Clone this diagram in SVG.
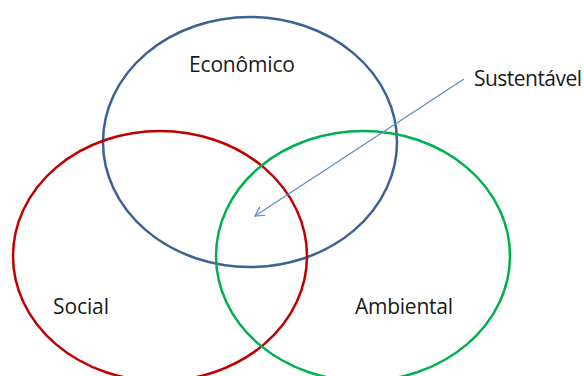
<svg xmlns="http://www.w3.org/2000/svg" width="584" height="376" viewBox="0 0 584 376">
<style>
.c{fill:none;stroke-width:2.5}
.t{font-family:"Open Sans","Noto Sans",sans-serif;font-size:21px;fill:#1a1a1a}
</style>
<defs>
<marker id="ah" markerWidth="12" markerHeight="12" refX="10" refY="6" orient="auto" markerUnits="userSpaceOnUse">
<path d="M1,1 L10,6 L1,11" fill="none" stroke="#5B8AC8" stroke-width="1.2"/>
</marker>
</defs>
<rect width="584" height="376" fill="#fff"/>
<g id="economico">
<ellipse class="c" cx="250" cy="142" rx="147" ry="125" stroke="#3C6295"/>
<text class="t" x="189" y="72" textLength="106">Econômico</text>
</g>
<g id="social">
<ellipse class="c" cx="160" cy="256" rx="147" ry="125" stroke="#C00000"/>
<text class="t" x="53" y="314" textLength="56">Social</text>
</g>
<g id="ambiental">
<ellipse class="c" cx="363" cy="256" rx="147" ry="125" stroke="#00B050"/>
<text class="t" x="355" y="314" textLength="98">Ambiental</text>
</g>
<g id="sustentavel">
<text class="t" x="474" y="86" textLength="108">Sustentável</text>
</g>
<g id="connectors">
<line x1="464" y1="79" x2="255" y2="216" stroke="#5B8AC8" stroke-width="1.2" marker-end="url(#ah)"/>
</g>
</svg>
